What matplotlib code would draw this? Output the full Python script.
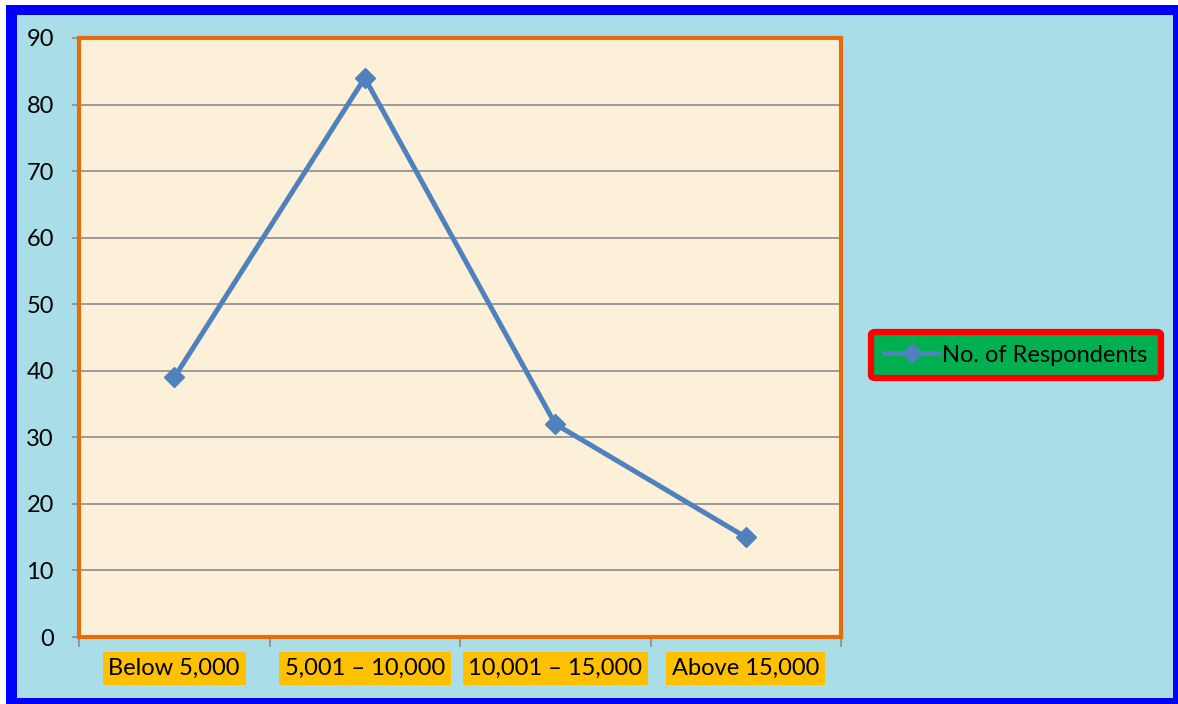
import matplotlib
matplotlib.use("Agg")
import matplotlib.pyplot as plt
from matplotlib.patches import Rectangle

categories = ["Below 5,000", "5,001 \u2013 10,000", "10,001 \u2013 15,000", "Above 15,000"]
respondents = [39, 84, 32, 15]
y_ticks = [0, 10, 20, 30, 40, 50, 60, 70, 80, 90]
series_name = "No. of Respondents"

W, H = 1178, 704
plt.rcParams["font.family"] = ["Lato", "DejaVu Sans"]
FS = 17

fig = plt.figure(figsize=(W / 100, H / 100), dpi=100)
fig.patch.set_facecolor("white")

# blue frame and the light water-blue backdrop inside it
fig.patches.append(Rectangle((6 / W, 0), 1 - 6 / W, 699 / H, transform=fig.transFigure,
                             facecolor="#0000ff", edgecolor="none", zorder=-3))
fig.patches.append(Rectangle((17 / W, 6 / H), (1173 - 17) / W, (689 - 6) / H,
                             transform=fig.transFigure, facecolor="#a9dde8",
                             edgecolor="none", zorder=-2))

ax = fig.add_axes([79 / W, (H - 637) / H, (841 - 79) / W, (637 - 38) / H])
ax.set_facecolor("#fdf0d9")

x = list(range(len(categories)))
line, = ax.plot(x, respondents, color="#4f81bd", linewidth=3.6, marker="D",
                markersize=10, markerfacecolor="#4f81bd", markeredgecolor="#4f81bd",
                label=series_name, zorder=3)

ax.set_xlim(-0.5, len(categories) - 0.5)
ax.set_ylim(0, 90)
ax.set_yticks(y_ticks)
ax.set_yticklabels([str(v) for v in y_ticks], fontsize=FS)
ax.yaxis.grid(True, color="#8c8c8c", linewidth=1.2)
ax.set_axisbelow(True)

ax.set_xticks([i - 0.5 for i in range(len(categories) + 1)])
ax.set_xticklabels([])
ax.set_xticks(x, minor=True)
ax.set_xticklabels(categories, minor=True, fontsize=FS)
ax.tick_params(axis="x", which="minor", length=0, pad=15)
ax.tick_params(axis="x", which="major", length=7, width=1.2, color="#8c8c8c", direction="out")
ax.tick_params(axis="y", length=5, width=1.2, color="#8c8c8c", pad=13)
for lbl in ax.get_xticklabels(minor=True):
    lbl.set_bbox(dict(facecolor="#ffc000", edgecolor="none", pad=4))

for s in ax.spines.values():
    s.set_color("#e46c0a")
    s.set_linewidth(3)

leg = fig.legend(handles=[line], loc="center", bbox_to_anchor=(1016 / W, 1 - 355 / H),
                 fontsize=FS, frameon=True, fancybox=True, handlelength=2.3,
                 handletextpad=0.15, borderpad=0.4, borderaxespad=0)
frame = leg.get_frame()
frame.set_facecolor("#00b050")
frame.set_edgecolor("#ff0000")
frame.set_linewidth(4.5)
frame.set_alpha(1)
frame.set_boxstyle("round", pad=0.15, rounding_size=0.15)

fig.savefig("out.png", dpi=100)
